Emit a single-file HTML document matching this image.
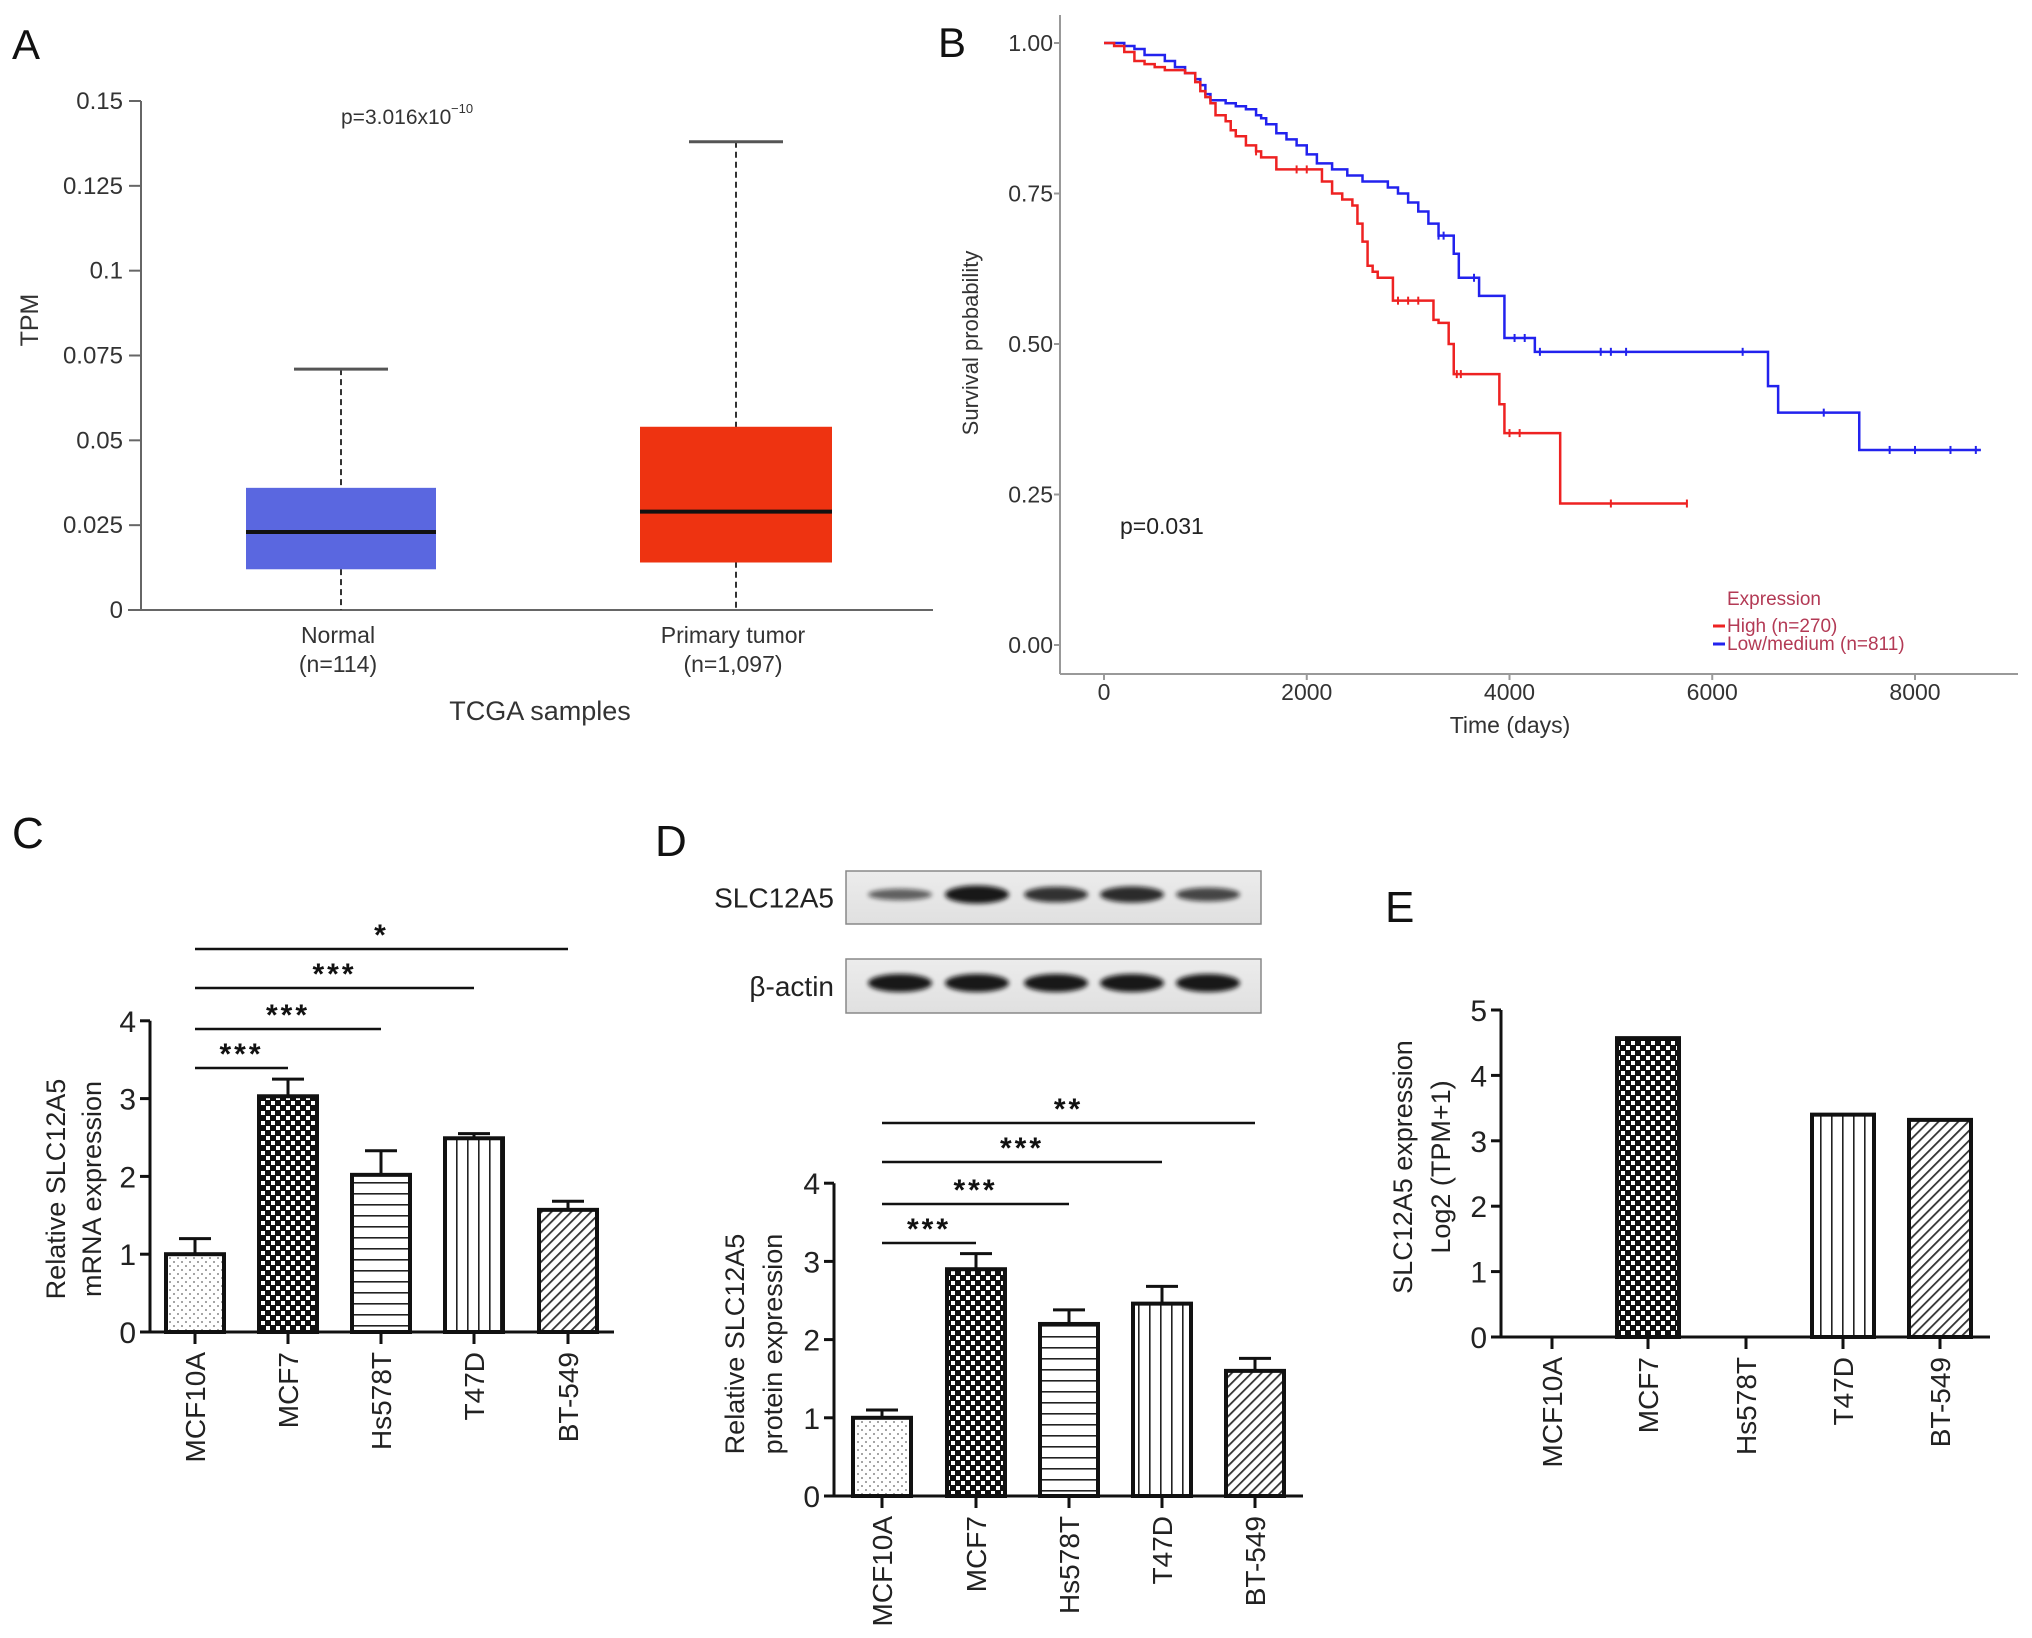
<!DOCTYPE html>
<html><head><meta charset="utf-8"><style>
html,body{margin:0;padding:0;background:#fff;}
svg{display:block;font-family:"Liberation Sans",Arial,sans-serif;}
</style></head><body>
<svg id="fig" width="2032" height="1638" viewBox="0 0 2032 1638" xmlns="http://www.w3.org/2000/svg">
<defs>
<pattern id="pDots" width="8" height="8" patternUnits="userSpaceOnUse"><rect width="8" height="8" fill="#fff"/><circle cx="2" cy="2" r="1" fill="#888"/><circle cx="6" cy="6" r="1" fill="#888"/></pattern>
<pattern id="pCheck" width="10" height="10" patternUnits="userSpaceOnUse"><rect width="10" height="10" fill="#111"/><rect x="1" y="1" width="4" height="4" fill="#fff"/><rect x="6" y="6" width="4" height="4" fill="#fff"/></pattern>
<pattern id="pHor" width="10" height="11" patternUnits="userSpaceOnUse"><rect width="10" height="11" fill="#fff"/><rect y="5" width="10" height="1.6" fill="#222"/></pattern>
<pattern id="pVer" width="11" height="10" patternUnits="userSpaceOnUse"><rect width="11" height="10" fill="#fff"/><rect x="5" width="1.6" height="10" fill="#222"/></pattern>
<pattern id="pDiag" width="7" height="7" patternUnits="userSpaceOnUse" patternTransform="rotate(45)"><rect width="7" height="7" fill="#fff"/><rect width="1.8" height="7" fill="#333"/></pattern>
<linearGradient id="blotBg" x1="0" y1="0" x2="0" y2="1"><stop offset="0" stop-color="#ececec"/><stop offset="1" stop-color="#e0e0e0"/></linearGradient>
<filter id="blur" x="-20%" y="-50%" width="140%" height="200%"><feGaussianBlur stdDeviation="2.5"/></filter>
</defs>
<g id="panelA"></g>
<g id="panelB"></g>
<g id="panelC"></g>
<g id="panelD"></g>
<g id="panelE"></g>
</svg>
<script>
// ---------- Panel A data ----------
const aGroups = ["Normal", "Primary tumor"];
const aCounts = ["(n=114)", "(n=1,097)"];
const aQ1 = [0.012, 0.014];
const aMedian = [0.023, 0.029];
const aQ3 = [0.036, 0.054];
const aWhiskerHi = [0.071, 0.138];
const aWhiskerLo = [0, 0];
const aTicks = [0, 0.025, 0.05, 0.075, 0.1, 0.125, 0.15];
const aTickLabels = ["0", "0.025", "0.05", "0.075", "0.1", "0.125", "0.15"];
// ---------- Panel B data ----------
const bHighT = [0,100,200,300,400,500,600,800,900,950,1000,1050,1100,1200,1250,1300,1400,1500,1550,1700,2100,2150,2250,2350,2450,2500,2550,2600,2650,2700,2850,3250,3300,3400,3450,3900,3950,4500,5750];
const bHighS = [1,0.995,0.985,0.97,0.965,0.96,0.955,0.95,0.935,0.92,0.91,0.90,0.88,0.87,0.855,0.845,0.83,0.82,0.81,0.79,0.79,0.77,0.75,0.74,0.73,0.70,0.67,0.63,0.62,0.61,0.572,0.54,0.535,0.50,0.45,0.40,0.352,0.235,0.235];
const bLowT = [0,200,300,400,600,700,800,900,950,1000,1050,1200,1300,1400,1500,1550,1600,1700,1800,1900,2000,2100,2250,2400,2550,2800,2900,3000,3100,3200,3300,3450,3500,3700,3950,4250,6450,6550,6650,7450,8650];
const bLowS = [1,0.995,0.99,0.98,0.97,0.96,0.95,0.94,0.93,0.915,0.905,0.90,0.895,0.89,0.88,0.875,0.865,0.85,0.84,0.83,0.815,0.80,0.79,0.78,0.77,0.76,0.75,0.735,0.72,0.70,0.68,0.65,0.61,0.58,0.51,0.487,0.487,0.43,0.386,0.324,0.324];
const bHighCens = [1500,1900,2000,2900,3000,3100,3480,3520,4000,4100,5000,5750];
const bLowCens = [3300,3350,3650,4050,4150,4300,4900,5000,5150,6300,7100,7750,8000,8350,8600];
const bYTicks = [0, 0.25, 0.5, 0.75, 1];
const bYLabels = ["0.00", "0.25", "0.50", "0.75", "1.00"];
const bXTicks = [0, 2000, 4000, 6000, 8000];
const bXLabels = ["0", "2000", "4000", "6000", "8000"];
// ---------- Bar panels ----------
const cellLines = ["MCF10A", "MCF7", "Hs578T", "T47D", "BT-549"];
const cValues = [1.0, 3.03, 2.02, 2.49, 1.57];
const cErrors = [0.2, 0.22, 0.31, 0.06, 0.11];
const cSig = ["***", "***", "***", "*"];
const dValues = [1.0, 2.9, 2.2, 2.46, 1.6];
const dErrors = [0.1, 0.2, 0.18, 0.22, 0.16];
const dSig = ["***", "***", "***", "**"];
const eValues = [0, 4.57, 0, 3.4, 3.32];
const barTicks = [0, 1, 2, 3, 4];
const eTicks = [0, 1, 2, 3, 4, 5];
const blotTarget = [0.45, 1.0, 0.8, 0.85, 0.65];
const blotActin = [1, 1, 1, 1, 1];
const patterns = ["url(#pDots)", "url(#pCheck)", "url(#pHor)", "url(#pVer)", "url(#pDiag)"];

const NS = "http://www.w3.org/2000/svg";
function mk(parent, tag, attrs, text) {
  const el = document.createElementNS(NS, tag);
  for (const k in attrs) el.setAttribute(k, attrs[k]);
  if (text !== undefined) el.textContent = text;
  parent.appendChild(el);
  return el;
}

// ================= Panel A =================
(function(){
  const g = document.getElementById("panelA");
  const x0 = 141, x1 = 933, yTop = 101, yBot = 610, vmax = 0.15;
  const ys = v => yBot - v / vmax * (yBot - yTop);
  const cx = [341, 736], hw = [95, 96];
  const colors = ["#5a67e0", "#ee3311"];
  let t = mk(g, "text", {x: 12, y: 59, "font-size": 42, fill: "#111"}, "A");
  
  
  let ax = mk(g, "line", {x1: x0, y1: yTop, x2: x0, y2: yBot, stroke: "#666", "stroke-width": 2});
  
  
  ax = mk(g, "line", {x1: 128, y1: yBot, x2: x1, y2: yBot, stroke: "#666", "stroke-width": 2});
  
  
  aTicks.forEach((v, i) => {
    const y = ys(v);
    mk(g, "line", {x1: 129, y1: y, x2: x0, y2: y, stroke: "#666", "stroke-width": 2});
    const tl = mk(g, "text", {x: 123, y: y + 8, "font-size": 24, "text-anchor": "end", fill: "#333"}, aTickLabels[i]);
    
    
  });
  aGroups.forEach((name, i) => {
    const c = cx[i];
    const wl = mk(g, "line", {x1: c, y1: ys(aWhiskerHi[i]), x2: c, y2: ys(aWhiskerLo[i]), stroke: "#333", "stroke-width": 2, "stroke-dasharray": "6,4"});
    
    
    const cap = mk(g, "line", {x1: c - 47, y1: ys(aWhiskerHi[i]), x2: c + 47, y2: ys(aWhiskerHi[i]), stroke: "#555", "stroke-width": 3});
    
    
    const box = mk(g, "rect", {x: c - hw[i], y: ys(aQ3[i]), width: hw[i] * 2, height: ys(aQ1[i]) - ys(aQ3[i]), fill: colors[i]});
    
    
    const med = mk(g, "line", {x1: c - hw[i], y1: ys(aMedian[i]), x2: c + hw[i], y2: ys(aMedian[i]), stroke: "#111", "stroke-width": 4});
    
    
    const l1 = mk(g, "text", {x: c - 3, y: 643, "font-size": 23, "text-anchor": "middle", fill: "#333"}, name);
    
    
    const l2 = mk(g, "text", {x: c - 3, y: 672, "font-size": 23, "text-anchor": "middle", fill: "#333"}, aCounts[i]);
    
    
  });
  t = mk(g, "text", {x: 540, y: 720, "font-size": 27, "text-anchor": "middle", fill: "#333"}, "TCGA samples");
  
  
  t = mk(g, "text", {x: 0, y: 0, "font-size": 25, "text-anchor": "middle", fill: "#333", transform: "translate(38,320) rotate(-90)"}, "TPM");
  
  
  t = mk(g, "text", {x: 341, y: 124, "font-size": 21, fill: "#333"}, "p=3.016x10");
  
  
  mk(g, "text", {x: 451, y: 113, "font-size": 13, fill: "#333"}, "−10");
})();

// ================= Panel B =================
(function(){
  const g = document.getElementById("panelB");
  const xa = 1060, yAxBot = 674, x0 = 1104, pxPer = 811 / 8000, y1 = 43, y0 = 645;
  const xs = t => x0 + t * pxPer;
  const ys = s => y0 - s * (y0 - y1);
  let t = mk(g, "text", {x: 938, y: 57, "font-size": 42, fill: "#111"}, "B");
  
  
  let a = mk(g, "line", {x1: xa, y1: 15, x2: xa, y2: yAxBot, stroke: "#999", "stroke-width": 2});
  
  
  a = mk(g, "line", {x1: xa, y1: yAxBot, x2: 2018, y2: yAxBot, stroke: "#999", "stroke-width": 2});
  
  
  bYTicks.forEach((v, i) => {
    mk(g, "line", {x1: xa - 6, y1: ys(v), x2: xa, y2: ys(v), stroke: "#999", "stroke-width": 2});
    const l = mk(g, "text", {x: 1053, y: ys(v) + 8, "font-size": 23, "text-anchor": "end", fill: "#333"}, bYLabels[i]);
    
    
  });
  bXTicks.forEach((v, i) => {
    mk(g, "line", {x1: xs(v), y1: yAxBot, x2: xs(v), y2: yAxBot + 6, stroke: "#999", "stroke-width": 2});
    const l = mk(g, "text", {x: xs(v), y: 700, "font-size": 23, "text-anchor": "middle", fill: "#333"}, bXLabels[i]);
    
    
  });
  function stepPath(T, S) {
    let d = "M" + xs(T[0]) + "," + ys(S[0]);
    for (let i = 1; i < T.length; i++) d += " H" + xs(T[i]) + " V" + ys(S[i]);
    return d;
  }
  function survAt(T, S, t) { let s = S[0]; for (let i = 0; i < T.length; i++) if (T[i] <= t) s = S[i]; return s; }
  const lowP = mk(g, "path", {d: stepPath(bLowT, bLowS), fill: "none", stroke: "#2222ee", "stroke-width": 2.5});
  
  
  const hiP = mk(g, "path", {d: stepPath(bHighT, bHighS), fill: "none", stroke: "#ee2222", "stroke-width": 2.5});
  
  
  bLowCens.forEach(c => {
    const y = ys(survAt(bLowT, bLowS, c));
    const m = mk(g, "line", {x1: xs(c), y1: y - 4, x2: xs(c), y2: y + 4, stroke: "#2222ee", "stroke-width": 2});
    
    
  });
  bHighCens.forEach(c => {
    const y = ys(survAt(bHighT, bHighS, c));
    const m = mk(g, "line", {x1: xs(c), y1: y - 4, x2: xs(c), y2: y + 4, stroke: "#ee2222", "stroke-width": 2});
    
    
  });
  t = mk(g, "text", {x: 1120, y: 534, "font-size": 23, fill: "#222"}, "p=0.031");
  
  
  t = mk(g, "text", {x: 1510, y: 733, "font-size": 23, "text-anchor": "middle", fill: "#333"}, "Time (days)");
  
  
  t = mk(g, "text", {x: 0, y: 0, "font-size": 22, "text-anchor": "middle", fill: "#333", transform: "translate(978,343) rotate(-90)"}, "Survival probability");
  
  
  t = mk(g, "text", {x: 1774, y: 605, "font-size": 19, "text-anchor": "middle", fill: "#b33a55"}, "Expression");
  
  
  const lg1 = mk(g, "g", {});
  
  
  mk(lg1, "line", {x1: 1713, y1: 626, x2: 1725, y2: 626, stroke: "#ee2222", "stroke-width": 3});
  mk(lg1, "text", {x: 1727, y: 632, "font-size": 19, fill: "#b33a55"}, "High (n=270)");
  const lg2 = mk(g, "g", {});
  
  
  mk(lg2, "line", {x1: 1713, y1: 644, x2: 1725, y2: 644, stroke: "#2222ee", "stroke-width": 3});
  mk(lg2, "text", {x: 1727, y: 650, "font-size": 19, fill: "#b33a55"}, "Low/medium (n=811)");
})();

// ================= generic bar chart =================
function barChart(g, o) {
  const ys = v => o.y0 - v * o.unit;
  let a = mk(g, "line", {x1: o.xa, y1: ys(o.ticks[o.ticks.length - 1]), x2: o.xa, y2: o.y0, stroke: "#111", "stroke-width": 3});
  
  
  a = mk(g, "line", {x1: o.xa - 10, y1: o.y0, x2: o.xend, y2: o.y0, stroke: "#111", "stroke-width": 3});
  
  
  o.ticks.forEach(v => {
    mk(g, "line", {x1: o.xa - 10, y1: ys(v), x2: o.xa, y2: ys(v), stroke: "#111", "stroke-width": 3});
    const l = mk(g, "text", {x: o.xa - 14, y: ys(v) + 11, "font-size": 30, "text-anchor": "end", fill: "#222"}, String(v));
    
    
  });
  o.values.forEach((v, i) => {
    const c = o.cx[i];
    mk(g, "line", {x1: c, y1: o.y0, x2: c, y2: o.y0 + 12, stroke: "#111", "stroke-width": 3});
    if (o.errors) {
      const e = mk(g, "path", {d: "M" + c + "," + ys(v) + " V" + ys(v + o.errors[i]) + " M" + (c - 16) + "," + ys(v + o.errors[i]) + " H" + (c + 16), stroke: "#111", "stroke-width": 3, fill: "none"});
      
      
    }
    if (v > 0) {
      const r = mk(g, "rect", {x: c - o.bw / 2, y: ys(v), width: o.bw, height: v * o.unit, fill: patterns[i], stroke: "#111", "stroke-width": 4});
      
      
    }
    const l = mk(g, "text", {x: 0, y: 0, "font-size": 28, "text-anchor": "end", fill: "#222", transform: "translate(" + (c + 10) + "," + (o.y0 + 20) + ") rotate(-90)"}, cellLines[i]);
    
    
  });
  if (o.sig) {
    o.sig.forEach((s, k) => {
      const y = o.sigY[k];
      const ln = mk(g, "line", {x1: o.cx[0], y1: y, x2: o.cx[k + 1], y2: y, stroke: "#111", "stroke-width": 2.5});
      
      
      const st = mk(g, "text", {x: (o.cx[0] + o.cx[k + 1]) / 2, y: y - 4, "font-size": 30, "font-weight": "bold", "text-anchor": "middle", fill: "#111", "letter-spacing": "3"}, s);
      
      
    });
  }
  const yl = mk(g, "text", {x: 0, y: 0, "font-size": 27, "text-anchor": "middle", fill: "#222", transform: "translate(" + o.ylx[0] + "," + o.ylY + ") rotate(-90)"}, o.ylab[0]);
  
  
  const yl2 = mk(g, "text", {x: 0, y: 0, "font-size": 27, "text-anchor": "middle", fill: "#222", transform: "translate(" + o.ylx[1] + "," + o.ylY + ") rotate(-90)"}, o.ylab[1]);
  
  
}

// ================= Panel C =================
(function(){
  const g = document.getElementById("panelC");
  const t = mk(g, "text", {x: 12, y: 848, "font-size": 44, fill: "#111"}, "C");
  
  
  barChart(g, {pre: "c", xa: 150, y0: 1332, unit: 77.8, xend: 614, ticks: barTicks, values: cValues, errors: cErrors,
    cx: [195, 288, 381, 474, 568], bw: 58, sig: cSig, sigY: [1068, 1029, 988, 949],
    ylab: ["Relative SLC12A5", "mRNA expression"], ylx: [65, 101], ylY: 1189});
})();

// ================= Panel D =================
(function(){
  const g = document.getElementById("panelD");
  let t = mk(g, "text", {x: 655, y: 856, "font-size": 44, fill: "#111"}, "D");
  
  
  const lanes = [900, 977, 1056, 1132, 1208];
  const blots = [{y: 871, h: 53, vals: blotTarget, name: "SLC12A5", lab: "slc12a5-blot"}, {y: 959, h: 54, vals: blotActin, name: "β-actin", lab: "beta-actin-blot"}];
  blots.forEach(b => {
    const bg = mk(g, "g", {});
    
    
    mk(bg, "rect", {x: 846, y: b.y, width: 415, height: b.h, fill: "url(#blotBg)", stroke: "#888", "stroke-width": 1.5});
    b.vals.forEach((v, i) => {
      mk(bg, "ellipse", {cx: lanes[i], cy: b.y + b.h / 2 - 3, rx: 32, ry: 3 + v * 6, fill: "#111", opacity: 0.35 + 0.6 * v, filter: "url(#blur)"});
    });
    const l = mk(g, "text", {x: 834, y: b.y + b.h / 2 + 10, "font-size": 28, "text-anchor": "end", fill: "#222"}, b.name);
    
    
  });
  barChart(g, {pre: "d", xa: 834, y0: 1496, unit: 78.2, xend: 1303, ticks: barTicks, values: dValues, errors: dErrors,
    cx: [882, 976, 1069, 1162, 1255], bw: 58, sig: dSig, sigY: [1243, 1204, 1162, 1123],
    ylab: ["Relative SLC12A5", "protein expression"], ylx: [744, 782], ylY: 1344});
})();

// ================= Panel E =================
(function(){
  const g = document.getElementById("panelE");
  const t = mk(g, "text", {x: 1385, y: 922, "font-size": 44, fill: "#111"}, "E");
  
  
  barChart(g, {pre: "e", xa: 1501, y0: 1337, unit: 65.4, xend: 1990, ticks: eTicks, values: eValues, errors: null,
    cx: [1552, 1648, 1746, 1843, 1940], bw: 62, sig: null, sigY: [],
    ylab: ["SLC12A5 expression", "Log2 (TPM+1)"], ylx: [1412, 1450], ylY: 1167});
})();
</script>
</body></html>
